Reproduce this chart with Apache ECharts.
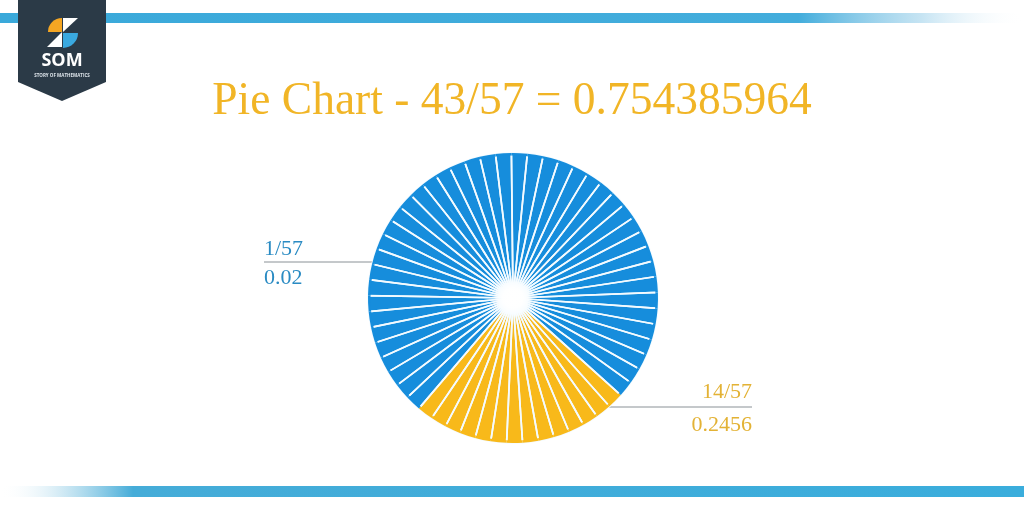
<!DOCTYPE html>
<html><head><meta charset="utf-8">
<script src="https://cdn.jsdelivr.net/npm/echarts@6/dist/echarts.min.js"></script>
<style>html,body{margin:0;padding:0;background:#fff}#c{width:1024px;height:512px}</style>
</head><body><div id="c"></div>
<script>
const titleText = 'Pie Chart - 43/57 = 0.754385964';
const partNames = ['14/57', '43/57'];
const partCounts = [14, 43];
const partColors = ['#f8b91a', '#168ddc'];
const sliceValue = 1;
const leftLabel = ['1/57', '0.02'];
const rightLabel = ['14/57', '0.2456'];

function buildSlices(withColor) {
  const out = [];
  partCounts.forEach((n, p) => {
    for (let i = 0; i < n; i++) {
      out.push({ name: partNames[p] + '-' + (i + 1), value: sliceValue,
        itemStyle: { color: withColor ? partColors[p] : 'rgba(0,0,0,0)' } });
    }
  });
  return out;
}

const chart = echarts.init(document.getElementById('c'));
const serif = '"Liberation Serif", "DejaVu Serif", serif';
const center = [513, 298];
const pieBase = { type: 'pie', center: center, startAngle: -42, clockwise: true, silent: true,
  label: { show: false }, labelLine: { show: false } };
chart.setOption({
  backgroundColor: '#ffffff',
  animation: false,
  title: {
    text: titleText, left: 'center', top: 74,
    textStyle: { fontFamily: serif, fontSize: 45.5, fontWeight: 'normal', color: '#f1b526' }
  },
  series: [
    Object.assign({}, pieBase, { radius: [0, 145], itemStyle: { borderWidth: 0 }, data: buildSlices(true) }),
    Object.assign({}, pieBase, { radius: [0, 145], itemStyle: { borderColor: '#f4fbff', borderWidth: 1.7 }, data: buildSlices(false) }),
    Object.assign({}, pieBase, { radius: [142.5, 145], itemStyle: { borderWidth: 0 }, data: buildSlices(true) }),
    {
      type: 'pie', center: center, radius: [0, 20], silent: true,
      label: { show: false }, labelLine: { show: false },
      itemStyle: { color: { type: 'radial', x: 0.5, y: 0.5, r: 0.5, colorStops: [
        { offset: 0, color: 'rgba(255,255,255,1)' }, { offset: 0.5, color: 'rgba(255,255,255,0.95)' }, { offset: 1, color: 'rgba(255,255,255,0)' }] } },
      data: [{ value: 1 }]
    }
  ],
  graphic: [
    { type: 'rect', shape: { x: 0, y: 13, width: 1024, height: 10 }, style: { fill: { type: 'linear', x: 0, y: 0, x2: 1, y2: 0, colorStops: [
      { offset: 0, color: '#3aa9da' }, { offset: 0.78, color: '#43addc' }, { offset: 0.9, color: 'rgba(160,210,235,0.6)' }, { offset: 1, color: 'rgba(255,255,255,0)' }] } } },
    { type: 'rect', shape: { x: 0, y: 486, width: 1024, height: 11 }, style: { fill: { type: 'linear', x: 0, y: 0, x2: 1, y2: 0, colorStops: [
      { offset: 0, color: 'rgba(255,255,255,0)' }, { offset: 0.06, color: 'rgba(190,225,240,0.7)' }, { offset: 0.13, color: '#45acd8' }, { offset: 1, color: '#3aaddc' }] } } },
    { type: 'polygon', shape: { points: [[18, 0], [106, 0], [106, 82], [62, 101], [18, 82]] }, style: { fill: '#2b3a47' } },
    { type: 'sector', shape: { cx: 62, cy: 32, r: 14, startAngle: Math.PI, endAngle: Math.PI * 1.5 }, style: { fill: '#f5a623' } },
    { type: 'polygon', shape: { points: [[63, 18], [78, 18], [63, 32]] }, style: { fill: '#ffffff' } },
    { type: 'polygon', shape: { points: [[62, 32], [62, 47], [47, 47]] }, style: { fill: '#ffffff' } },
    { type: 'sector', shape: { cx: 63, cy: 33, r: 15, startAngle: 0, endAngle: Math.PI * 0.5 }, style: { fill: '#3aa9e0' } },
    { type: 'text', style: { text: 'SOM', x: 62, y: 61, fill: '#ffffff', font: 'bold 18px "Open Sans", sans-serif', align: 'center', verticalAlign: 'middle' } },
    { type: 'text', style: { text: 'STORY OF MATHEMATICS', x: 62, y: 76, fill: '#dfe6ec', font: 'bold 4.5px "Open Sans", sans-serif', align: 'center', verticalAlign: 'middle' } },
    { type: 'line', shape: { x1: 264, y1: 262, x2: 384, y2: 262 }, style: { stroke: '#8a9196', lineWidth: 1 } },
    { type: 'text', style: { text: leftLabel[0], x: 264, y: 249, fill: '#2a8bc3', font: '22px ' + serif, align: 'left', verticalAlign: 'middle' } },
    { type: 'text', style: { text: leftLabel[1], x: 264, y: 278, fill: '#2a8bc3', font: '22px ' + serif, align: 'left', verticalAlign: 'middle' } },
    { type: 'line', shape: { x1: 602, y1: 407, x2: 752, y2: 407 }, style: { stroke: '#8a9196', lineWidth: 1 } },
    { type: 'text', style: { text: rightLabel[0], x: 752, y: 392, fill: '#e3b235', font: '22px ' + serif, align: 'right', verticalAlign: 'middle' } },
    { type: 'text', style: { text: rightLabel[1], x: 752, y: 425, fill: '#e3b235', font: '22px ' + serif, align: 'right', verticalAlign: 'middle' } }
  ]
});
</script></body></html>
